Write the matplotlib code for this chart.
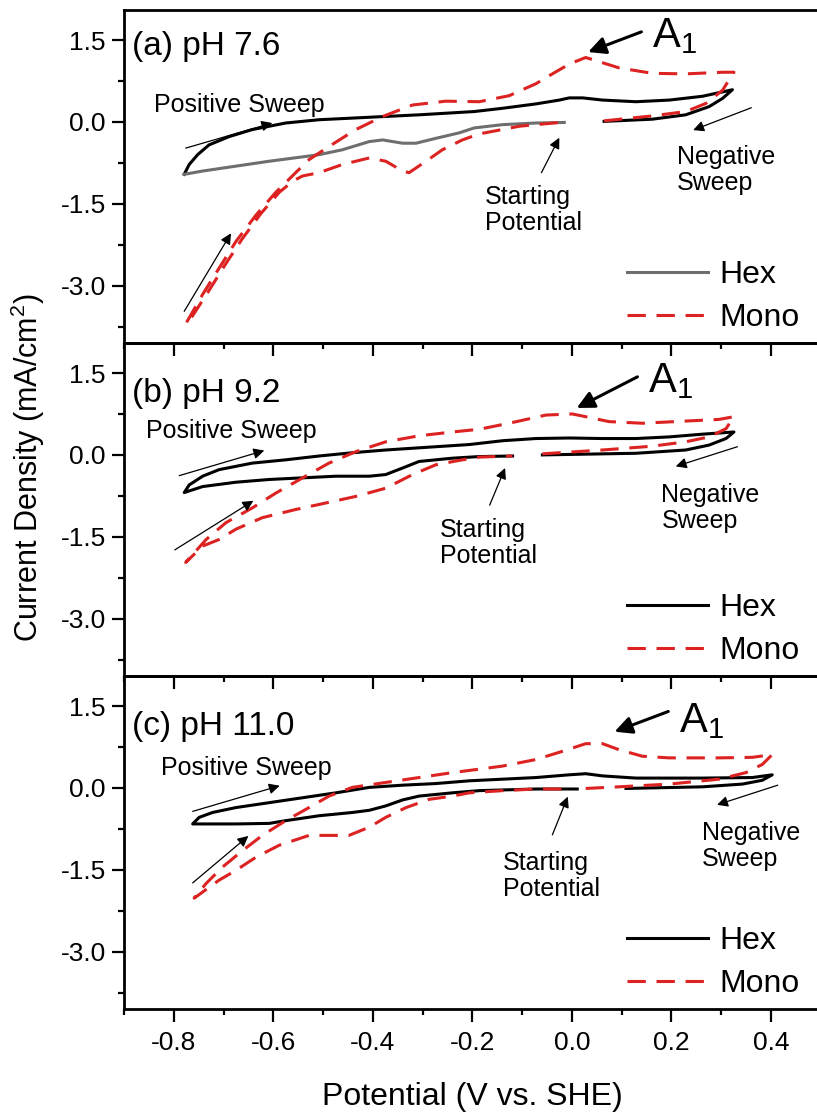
import matplotlib.pyplot as plt
from matplotlib.lines import Line2D
from matplotlib.ticker import MultipleLocator, FormatStrFormatter

plt.rcParams['font.family'] = ['Liberation Sans', 'DejaVu Sans']
plt.rcParams['mathtext.fontset'] = 'custom'
plt.rcParams['mathtext.rm'] = 'Liberation Sans'
plt.rcParams['mathtext.it'] = 'Liberation Sans:italic'
plt.rcParams['axes.unicode_minus'] = False

RED = '#DD2222'
GRAY = '#6E6E6E'

# ---- pH 7.6 ----
hex_a_x = [0.065, 0.162, 0.229, 0.276, 0.303, 0.323, 0.263, 0.196, 0.129, 0.062, 0.022, -0.005,
           -0.025, -0.072, -0.139, -0.196, -0.307, -0.374, -0.441, -0.508, -0.575, -0.642,
           -0.689, -0.729, -0.752, -0.769, -0.779]
hex_a_y = [0.01, 0.05, 0.13, 0.28, 0.43, 0.59, 0.47, 0.40, 0.37, 0.40, 0.44, 0.44,
           0.40, 0.33, 0.25, 0.19, 0.13, 0.10, 0.07, 0.04, -0.02, -0.14,
           -0.27, -0.42, -0.60, -0.78, -0.96]
hex_a_ret_x = [-0.779, -0.742, -0.675, -0.608, -0.541, -0.508, -0.461, -0.407, -0.380, -0.340,
               -0.313, -0.273, -0.226, -0.196, -0.139, -0.072, -0.015]
hex_a_ret_y = [-0.96, -0.90, -0.81, -0.72, -0.64, -0.60, -0.51, -0.36, -0.33, -0.39,
               -0.39, -0.30, -0.20, -0.11, -0.05, -0.02, -0.01]
mono_a_x = [0.065, 0.162, 0.229, 0.270, 0.303, 0.326, 0.303, 0.229, 0.162, 0.095, 0.028, -0.005,
            -0.039, -0.072, -0.126, -0.186, -0.253, -0.320, -0.380, -0.434, -0.488, -0.528,
            -0.555, -0.595, -0.635, -0.675, -0.709, -0.742, -0.776, -0.762, -0.730, -0.697,
            -0.663, -0.625, -0.588, -0.560, -0.541, -0.508, -0.461, -0.407, -0.374, -0.340,
            -0.327, -0.293, -0.260, -0.220, -0.186, -0.106, -0.025]
mono_a_y = [0.02, 0.11, 0.19, 0.34, 0.58, 0.91, 0.91, 0.88, 0.89, 0.99, 1.18, 1.06,
            0.88, 0.70, 0.48, 0.37, 0.38, 0.31, 0.10, -0.14, -0.45, -0.69,
            -0.93, -1.29, -1.71, -2.19, -2.68, -3.16, -3.70, -3.55, -3.10, -2.62,
            -2.15, -1.68, -1.29, -1.08, -0.99, -0.93, -0.78, -0.66, -0.72, -0.90,
            -0.93, -0.72, -0.51, -0.33, -0.22, -0.08, -0.01]

# ---- pH 9.2 ----
hex_b_x = [-0.059, 0.129, 0.229, 0.276, 0.310, 0.326, 0.263, 0.196, 0.129, 0.062, -0.005, -0.072,
           -0.139, -0.206, -0.307, -0.374, -0.441, -0.508, -0.575, -0.642, -0.709, -0.742,
           -0.769, -0.779, -0.742, -0.675, -0.608, -0.541, -0.474, -0.407, -0.374, -0.340,
           -0.307, -0.240, -0.186, -0.119]
hex_b_y = [0.00, 0.03, 0.09, 0.18, 0.30, 0.42, 0.38, 0.33, 0.30, 0.30, 0.31, 0.30,
           0.26, 0.19, 0.13, 0.09, 0.04, -0.02, -0.09, -0.15, -0.27, -0.39,
           -0.55, -0.69, -0.58, -0.50, -0.45, -0.42, -0.39, -0.39, -0.36, -0.24,
           -0.12, -0.06, -0.03, -0.02]
mono_b_x = [-0.059, 0.062, 0.162, 0.229, 0.276, 0.310, 0.326, 0.296, 0.229, 0.142, 0.075, 0.028,
            0.001, -0.052, -0.126, -0.186, -0.240, -0.307, -0.374, -0.434, -0.488, -0.541,
            -0.595, -0.642, -0.695, -0.735, -0.776, -0.742, -0.709, -0.675, -0.622, -0.555,
            -0.494, -0.434, -0.374, -0.320, -0.273, -0.220, -0.186, -0.119]
mono_b_y = [0.02, 0.09, 0.16, 0.24, 0.33, 0.48, 0.70, 0.65, 0.62, 0.58, 0.61, 0.70,
            0.75, 0.73, 0.58, 0.47, 0.42, 0.35, 0.24, 0.06, -0.15, -0.42,
            -0.70, -0.97, -1.24, -1.55, -1.97, -1.67, -1.55, -1.36, -1.15, -1.00,
            -0.88, -0.76, -0.61, -0.36, -0.18, -0.09, -0.04, -0.02]

# ---- pH 11.0 ----
hex_c_x = [0.109, 0.263, 0.343, 0.383, 0.403, 0.363, 0.263, 0.129, 0.062, 0.028, -0.005, -0.072,
           -0.139, -0.206, -0.273, -0.340, -0.407, -0.474, -0.541, -0.608, -0.675, -0.722,
           -0.749, -0.762, -0.742, -0.675, -0.608, -0.575, -0.508, -0.441, -0.407, -0.374,
           -0.340, -0.307, -0.240, -0.186, -0.072, 0.011]
hex_c_y = [-0.01, 0.02, 0.07, 0.14, 0.24, 0.19, 0.18, 0.18, 0.22, 0.26, 0.24, 0.19,
           0.16, 0.13, 0.08, 0.05, 0.01, -0.09, -0.18, -0.27, -0.36, -0.45,
           -0.54, -0.66, -0.66, -0.66, -0.65, -0.60, -0.51, -0.45, -0.41, -0.33,
           -0.22, -0.15, -0.09, -0.05, -0.02, -0.02]
mono_c_x = [0.028, 0.095, 0.196, 0.296, 0.350, 0.383, 0.403, 0.363, 0.296, 0.196, 0.142, 0.095,
            0.062, 0.028, -0.019, -0.072, -0.139, -0.206, -0.240, -0.307, -0.374, -0.441,
            -0.488, -0.528, -0.575, -0.622, -0.662, -0.702, -0.735, -0.759, -0.709, -0.675,
            -0.635, -0.588, -0.528, -0.448, -0.407, -0.374, -0.333, -0.287, -0.240, -0.206,
            -0.139, -0.072, 0.000]
mono_c_y = [-0.01, 0.02, 0.07, 0.16, 0.28, 0.43, 0.61, 0.56, 0.55, 0.55, 0.58, 0.70,
            0.81, 0.81, 0.67, 0.52, 0.40, 0.32, 0.28, 0.19, 0.10, 0.01,
            -0.15, -0.36, -0.60, -0.87, -1.15, -1.45, -1.75, -2.02, -1.69, -1.51,
            -1.27, -1.05, -0.87, -0.87, -0.72, -0.54, -0.36, -0.21, -0.15, -0.09,
            -0.05, -0.02, -0.02]

panel_titles = ['(a) pH 7.6', '(b) pH 9.2', '(c) pH 11.0']
series_labels = ['Hex', 'Mono']
x_label = 'Potential (V vs. SHE)'
y_label = 'Current Density (mA/cm$^2$)'

LW = 2.2
DASH = (6, 3.5)

fig = plt.figure(figsize=(8.17, 11.18), dpi=100)
fig.patch.set_facecolor('white')
axes = [fig.add_axes([0.1518, b, 0.8525, 0.29785]) for b in (0.6932, 0.39535, 0.0975)]

for i, ax in enumerate(axes):
    ax.set_facecolor('none')
    ax.set_xlim(-0.9, 0.5)
    ax.set_ylim(-4.05, 2.05)
    ax.xaxis.set_major_locator(MultipleLocator(0.2))
    ax.xaxis.set_minor_locator(MultipleLocator(0.1))
    ax.yaxis.set_major_locator(MultipleLocator(1.5))
    ax.yaxis.set_minor_locator(MultipleLocator(0.75))
    ax.xaxis.set_major_formatter(FormatStrFormatter('%.1f'))
    ax.yaxis.set_major_formatter(FormatStrFormatter('%.1f'))
    ax.tick_params(which='both', direction='out', width=1.6, top=False, right=False)
    ax.tick_params(which='major', length=9, labelsize=19, pad=4)
    ax.tick_params(which='minor', length=4.5)
    ax.tick_params(axis='x', labelbottom=(i == 2), pad=7)
    ax.spines['right'].set_visible(False)
    for s in ('left', 'top', 'bottom'):
        ax.spines[s].set_linewidth(2)

ax_a, ax_b, ax_c = axes

ax_a.plot(hex_a_x, hex_a_y, color='k', lw=LW)
ax_a.plot(hex_a_ret_x, hex_a_ret_y, color=GRAY, lw=LW)
ax_a.plot(mono_a_x, mono_a_y, color=RED, lw=LW, dashes=DASH)

ax_b.plot(hex_b_x, hex_b_y, color='k', lw=LW)
ax_b.plot(mono_b_x, mono_b_y, color=RED, lw=LW, dashes=DASH)

ax_c.plot(hex_c_x, hex_c_y, color='k', lw=LW)
ax_c.plot(mono_c_x, mono_c_y, color=RED, lw=LW, dashes=DASH)


def arrow(ax, tail, head, lw=0.9, size=16):
    ax.annotate('', xy=head, xytext=tail,
                arrowprops=dict(arrowstyle='-|>', color='k', lw=lw, mutation_scale=size,
                                shrinkA=0, shrinkB=0))


# text and arrow positions for each panel (data units)
notes = [
    dict(title=(-0.884, 1.23), pos=(-0.839, 0.18), pos_arrow=((-0.776, -0.48), (-0.602, -0.02)),
         low_arrow=((-0.779, -3.47), (-0.685, -2.04)),
         start=(-0.174, -1.15), start_arrow=((-0.061, -0.93), (-0.025, -0.29)),
         neg=(0.212, -0.42), neg_arrow=((0.361, 0.26), (0.244, -0.15)),
         a1=(0.162, 1.37), a1_arrow=((0.140, 1.65), (0.033, 1.28))),
    dict(title=(-0.884, 0.97), pos=(-0.855, 0.31), pos_arrow=((-0.789, -0.38), (-0.618, 0.08)),
         low_arrow=((-0.798, -1.74), (-0.640, -0.84)),
         start=(-0.265, -1.15), start_arrow=((-0.165, -0.92), (-0.134, -0.24)),
         neg=(0.180, -0.51), neg_arrow=((0.333, 0.15), (0.209, -0.21)),
         a1=(0.153, 1.15), a1_arrow=((0.132, 1.43), (0.010, 0.86))),
    dict(title=(-0.884, 0.97), pos=(-0.825, 0.24), pos_arrow=((-0.762, -0.43), (-0.587, 0.04)),
         low_arrow=((-0.762, -1.74), (-0.650, -0.88)),
         start=(-0.138, -1.15), start_arrow=((-0.039, -0.86), (-0.008, -0.16)),
         neg=(0.262, -0.60), neg_arrow=((0.414, 0.05), (0.292, -0.31)),
         a1=(0.216, 1.03), a1_arrow=((0.194, 1.40), (0.086, 1.03))),
]

for ax, title, n, hex_color in zip(axes, panel_titles, notes, [GRAY, 'k', 'k']):
    ax.text(*n['title'], title, fontsize=24, va='baseline', ha='left')
    ax.text(*n['pos'], 'Positive Sweep', fontsize=18, va='baseline', ha='left')
    arrow(ax, *n['pos_arrow'])
    arrow(ax, *n['low_arrow'])
    ax.text(*n['start'], 'Starting\nPotential', fontsize=18, va='top', ha='left', linespacing=1.1)
    arrow(ax, *n['start_arrow'])
    ax.text(*n['neg'], 'Negative\nSweep', fontsize=18, va='top', ha='left', linespacing=1.1)
    arrow(ax, *n['neg_arrow'])
    ax.text(*n['a1'], 'A$_1$', fontsize=30, va='baseline', ha='left')
    arrow(ax, *n['a1_arrow'], lw=2.2, size=26)

    handles = [Line2D([], [], color=hex_color, lw=LW),
               Line2D([], [], color=RED, lw=LW, dashes=DASH)]
    ax.legend(handles, series_labels, loc='upper left', bbox_to_anchor=(0.722, 0.25),
              frameon=False, fontsize=23, borderpad=0, borderaxespad=0,
              handlelength=2.55, handletextpad=0.35, labelspacing=0.42)

fig.text(472 / 817, 1 - 1097 / 1118, x_label, fontsize=23, ha='center', va='center')
fig.text(28 / 817, 1 - 468 / 1118, y_label, fontsize=22, ha='center', va='center',
         rotation=90)

fig.savefig('out.png', dpi=100)
